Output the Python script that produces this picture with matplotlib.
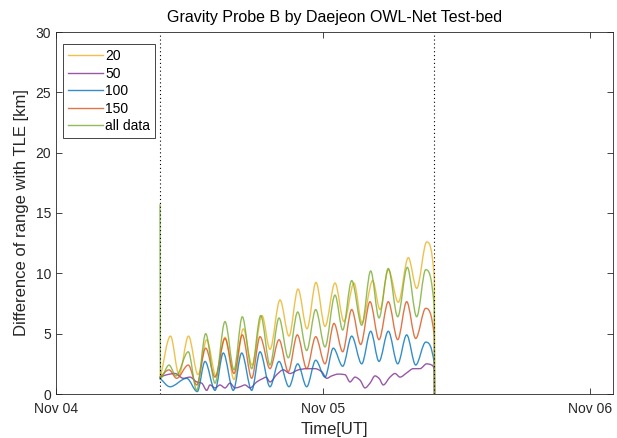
import datetime as dt
import matplotlib
matplotlib.use("Agg")
import matplotlib.pyplot as plt
import matplotlib.dates as mdates
from matplotlib.path import Path
from matplotlib.patches import PathPatch
from matplotlib.lines import Line2D

# ---------------- data (hours after Nov 04 00:00 UT, difference in km) ----------------
series_labels = ["20", "50", "100", "150", "all data"]

h20 = [9.348, 10.292, 11.056, 11.910, 12.764, 13.546, 14.382, 15.191, 16.000, 16.836,
       17.618, 18.517, 19.236, 20.135, 20.944, 21.753, 22.562, 23.371, 24.180, 25.079,
       25.888, 26.787, 27.506, 28.467, 29.124, 29.870, 30.769, 31.667, 32.422, 33.322,
       34.005, 34.023]
v20 = [1.2, 4.8, 1.6, 4.8, 1.6, 4.5, 1.5, 4.7, 1.2, 5.4,
       2.4, 6.5, 3.7, 7.8, 4.8, 8.7, 5.4, 9.25, 5.6, 9.2,
       6.0, 9.2, 5.9, 9.4, 7.0, 10.3, 7.6, 11.3, 8.75, 12.6,
       9.6, 0.0]

h50 = [9.348, 9.978, 10.697, 11.443, 12.045, 12.647, 13.097, 13.546, 13.843, 14.292,
       14.742, 15.191, 15.641, 16.090, 16.539, 16.989, 17.438, 18.040, 18.634, 18.876,
       19.236, 19.838, 20.431, 21.034, 21.780, 22.535, 23.281, 23.883, 24.333, 24.782,
       25.376, 25.978, 26.427, 26.877, 27.326, 27.775, 28.225, 28.674, 29.034, 29.420,
       30.022, 30.472, 30.921, 31.523, 32.117, 32.719, 33.322, 33.771, 34.005, 34.023]
v50 = [1.4, 1.6, 1.7, 1.3, 1.4, 1.0, 0.9, 0.3, 0.75, 0.5,
       0.75, 0.5, 0.9, 0.5, 0.6, 0.75, 0.5, 1.0, 1.3, 1.4,
       1.0, 1.6, 2.0, 1.7, 2.0, 2.1, 2.1, 1.85, 1.3, 1.5,
       1.65, 1.6, 1.0, 1.4, 1.15, 0.5, 0.9, 1.5, 1.3, 0.75,
       1.4, 1.7, 1.4, 1.75, 2.1, 2.1, 2.5, 2.4, 2.0, 0.0]

h100 = [9.348, 10.247, 11.749, 12.701, 13.393, 14.292, 15.038, 15.937, 16.692, 17.591,
        18.337, 19.236, 20.045, 20.944, 21.726, 22.535, 23.344, 24.180, 24.926, 25.771,
        26.580, 27.479, 28.288, 29.034, 29.870, 30.715, 31.523, 32.332, 33.232, 34.005,
        34.023]
v100 = [1.3, 0.6, 1.3, 0.2, 2.7, 0.3, 3.4, 0.3, 3.4, 0.3,
        3.5, 0.6, 2.7, 0.6, 2.5, 0.6, 2.8, 1.4, 3.8, 2.3,
        4.8, 2.5, 5.2, 2.7, 5.2, 2.5, 4.9, 2.4, 4.3, 2.5,
        0.0]

h150 = [9.348, 10.157, 10.849, 11.892, 12.647, 13.456, 14.292, 15.191, 16.000, 16.746,
        17.591, 18.337, 19.236, 20.045, 20.881, 21.690, 22.535, 23.344, 24.180, 24.989,
        25.771, 26.580, 27.389, 28.225, 29.034, 29.870, 30.715, 31.523, 32.332, 33.232,
        34.005, 34.023]
v150 = [1.4, 2.0, 1.3, 2.4, 0.75, 3.8, 1.4, 4.6, 1.7, 4.9,
        1.3, 4.75, 2.1, 4.5, 1.85, 4.9, 2.1, 4.75, 2.5, 5.85,
        3.5, 7.0, 4.1, 7.65, 4.5, 7.65, 4.5, 7.65, 4.6, 7.1,
        4.75, 0.0]

hall = [9.348, 9.384, 10.157, 10.787, 11.892, 12.647, 13.456, 14.292, 15.191, 16.000,
        16.746, 17.591, 18.400, 19.236, 20.045, 20.881, 21.726, 22.535, 23.344, 24.180,
        25.079, 25.771, 26.580, 27.479, 28.288, 29.034, 29.870, 30.715, 31.577, 32.422,
        33.232, 34.005, 34.023]
vall = [15.7, 1.3, 2.4, 1.5, 3.5, 0.3, 5.0, 0.9, 6.0, 2.0,
        6.4, 2.1, 6.5, 2.4, 6.3, 3.0, 6.8, 3.6, 7.0, 3.9,
        8.2, 5.3, 9.4, 5.7, 10.2, 6.3, 10.4, 6.4, 10.5, 6.4,
        10.3, 7.1, 0.0]

window_hours = [9.348, 34.0]           # dotted vertical markers
xtick_days = [0, 1, 2]                 # Nov 04, Nov 05, Nov 06
yticks = [0, 5, 10, 15, 20, 25, 30]

colors = {"20": (0.929, 0.694, 0.125), "50": (0.494, 0.184, 0.556),
          "100": (0.0, 0.447, 0.741), "150": (0.85, 0.325, 0.098),
          "all data": (0.466, 0.674, 0.188)}

# ---------------- helpers ----------------
base = dt.datetime(2015, 11, 4)


def to_num(hours):
    return [mdates.date2num(base + dt.timedelta(hours=h)) for h in hours]


def smooth_path(xs, ys):
    """Monotone cubic Bezier path through the given points."""
    n = len(xs)
    hs = [xs[i + 1] - xs[i] for i in range(n - 1)]
    ds = [(ys[i + 1] - ys[i]) / hs[i] for i in range(n - 1)]
    m = [0.0] * n
    m[0] = ds[0]
    m[-1] = ds[-1]
    for i in range(1, n - 1):
        if ds[i - 1] * ds[i] <= 0:
            m[i] = 0.0
        else:
            w1 = 2 * hs[i] + hs[i - 1]
            w2 = hs[i] + 2 * hs[i - 1]
            m[i] = (w1 + w2) / (w1 / ds[i - 1] + w2 / ds[i])
    verts = [(xs[0], ys[0])]
    codes = [Path.MOVETO]
    for i in range(n - 1):
        h = hs[i]
        verts += [(xs[i] + h / 3, ys[i] + m[i] * h / 3),
                  (xs[i + 1] - h / 3, ys[i + 1] - m[i + 1] * h / 3),
                  (xs[i + 1], ys[i + 1])]
        codes += [Path.CURVE4] * 3
    return Path(verts, codes)


# ---------------- figure ----------------
plt.rcParams["font.family"] = ["Liberation Sans", "DejaVu Sans"]
fig = plt.figure(figsize=(6.17, 4.38), dpi=100)
ax = fig.add_axes([56 / 617, 1 - 394 / 438, 557 / 617, 362 / 438])
ax.xaxis_date()

series = [("20", h20, v20), ("50", h50, v50), ("100", h100, v100),
          ("150", h150, v150), ("all data", hall, vall)]
handles = []
for lab, hh, vv in series:
    p = smooth_path(to_num(hh), vv)
    ax.add_patch(PathPatch(p, facecolor="none", edgecolor=colors[lab],
                           lw=1.0, alpha=0.8, capstyle="round", joinstyle="round"))
    handles.append(Line2D([0], [0], color=colors[lab], lw=1.0, alpha=0.8))

for wx in to_num(window_hours):
    ax.axvline(wx, color="black", ls=(0, (1, 2.5)), lw=0.8)

x0 = mdates.date2num(base)
ax.set_xlim(x0, x0 + 557 / 267)
ax.set_ylim(0, 30)
ax.set_xticks([x0 + d for d in xtick_days])
ax.xaxis.set_major_formatter(mdates.DateFormatter("%b %d"))
ax.set_yticks(yticks)

gray = (0.15, 0.15, 0.15)
for s in ax.spines.values():
    s.set_color(gray)
    s.set_linewidth(0.6)
ax.tick_params(direction="in", length=4, width=0.6, colors=gray, labelsize=10,
               top=True, right=True)
ax.tick_params(axis="x", pad=6)

ax.set_title("Gravity Probe B by Daejeon OWL-Net Test-bed", fontsize=11.5, pad=7)
ax.set_xlabel("Time[UT]", fontsize=12, color=gray, labelpad=4)
ax.set_ylabel("Difference of range with TLE [km]", fontsize=12, color=gray, labelpad=5)

leg = ax.legend(handles, series_labels, loc="upper left",
                bbox_to_anchor=(7.3 / 557, 1 - 12.3 / 362), borderaxespad=0,
                fontsize=10, handlelength=2.5, handletextpad=0.15,
                labelspacing=0.25, borderpad=0.35, fancybox=False,
                edgecolor=gray, framealpha=1)
leg.get_frame().set_linewidth(0.6)

fig.savefig("out.png", dpi=100)
